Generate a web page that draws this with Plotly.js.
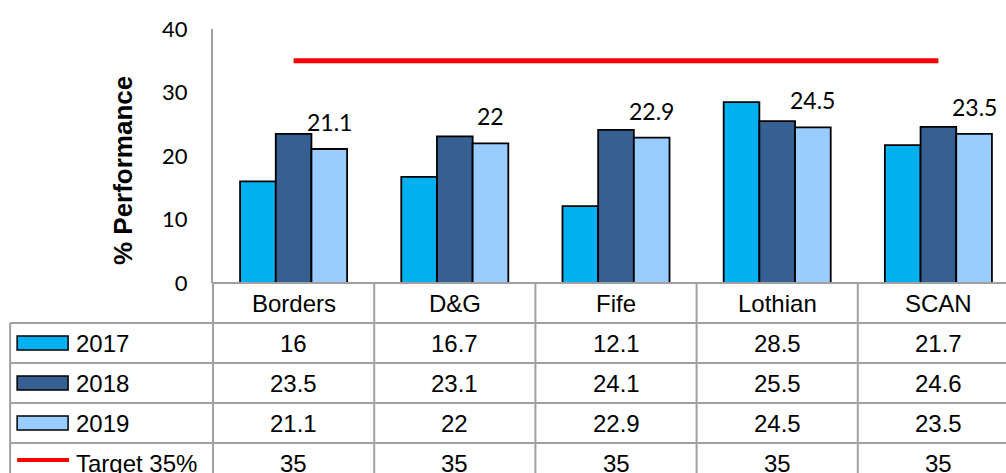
<!DOCTYPE html>
<html>
<head>
<meta charset="utf-8">
<script src="https://cdn.plot.ly/plotly-3.0.1.min.js"></script>
<style>
html,body{margin:0;padding:0;overflow:hidden;background:#fff;width:1006px;height:473px;}
#chart{width:1040px;height:500px;}
</style>
</head>
<body>
<div id="chart"></div>
<script>
// ---- data ----
const categories = ['Borders', 'D&G', 'Fife', 'Lothian', 'SCAN'];
const y2017 = [16, 16.7, 12.1, 28.5, 21.7];
const y2018 = [23.5, 23.1, 24.1, 25.5, 24.6];
const y2019 = [21.1, 22, 22.9, 24.5, 23.5];
const target = [35, 35, 35, 35, 35];
const seriesNames = ['2017', '2018', '2019', 'Target 35%'];
const yTickVals = [0, 10, 20, 30, 40];
const yTitle = '% Performance';

// ---- style / layout geometry ----
const colors = ['#00B0F0', '#376092', '#99CCFF', '#FF0000'];
const FIG_W = 1040, FIG_H = 500;
const L = 213, T = 29, PLOT_BOTTOM = 283;
const CELL_W = 161.3;
const PLOT_W = CELL_W * categories.length;
const PLOT_H = PLOT_BOTTOM - T;
const ROW_H = 40;
const TABLE_LEFT = 10;
const BARGAP = 0.336;
const gridColor = '#A0A0A0';
const tableFont = {family: 'Liberation Sans, Arial, sans-serif', size: 24, color: '#000'};

const px = x => (x - L) / PLOT_W;          // pixel -> paper x
const py = y => (PLOT_BOTTOM - y) / PLOT_H; // pixel -> paper y

const rows = [y2017, y2018, y2019, target];

const traces = [];
[y2017, y2018, y2019].forEach((vals, i) => {
  traces.push({
    type: 'bar', x: categories, y: vals, name: seriesNames[i],
    marker: {color: colors[i], line: {color: '#000', width: 1.8}},
    hoverinfo: 'skip'
  });
});
traces.push({
  type: 'scatter', mode: 'lines', x: categories, y: target, name: seriesNames[3],
  line: {color: colors[3], width: 5}, hoverinfo: 'skip'
});

const shapes = [];
const annotations = [];
const line = (x0, y0, x1, y1, extra) => Object.assign({
  type: 'line', xref: 'paper', yref: 'paper',
  x0: px(x0), y0: py(y0), x1: px(x1), y1: py(y1),
  line: {color: gridColor, width: 2}, layer: 'above'
}, extra || {});

const tableBottom = PLOT_BOTTOM + ROW_H * (rows.length + 1);
const right = L + PLOT_W;
// horizontal table lines
shapes.push(line(L, PLOT_BOTTOM, right, PLOT_BOTTOM));
for (let r = 1; r <= rows.length + 1; r++) {
  const yy = PLOT_BOTTOM + r * ROW_H;
  shapes.push(line(TABLE_LEFT, yy, right, yy));
}
// vertical table lines
shapes.push(line(TABLE_LEFT, PLOT_BOTTOM + ROW_H, TABLE_LEFT, tableBottom + 10));
for (let c = 0; c <= categories.length; c++) {
  const xx = L + c * CELL_W;
  shapes.push(line(xx, PLOT_BOTTOM, xx, tableBottom + 10));
}

// header row (category names)
categories.forEach((cat, i) => {
  annotations.push({
    xref: 'x', yref: 'paper', x: i, y: py(PLOT_BOTTOM + ROW_H / 2),
    text: cat, showarrow: false, font: tableFont, xanchor: 'center', yanchor: 'middle'
  });
});

// data rows
rows.forEach((vals, r) => {
  const yc = PLOT_BOTTOM + ROW_H * (r + 1) + ROW_H / 2;
  vals.forEach((v, i) => {
    annotations.push({
      xref: 'x', yref: 'paper', x: i, y: py(yc),
      text: String(v), showarrow: false, font: tableFont, xanchor: 'center', yanchor: 'middle'
    });
  });
  // legend key
  if (r < 3) {
    shapes.push({
      type: 'rect', xref: 'paper', yref: 'paper',
      x0: px(17), x1: px(68), y0: py(yc - 7), y1: py(yc + 7),
      fillcolor: colors[r], line: {color: '#000', width: 1.5}, layer: 'above'
    });
  } else {
    shapes.push({
      type: 'line', xref: 'paper', yref: 'paper',
      x0: px(17), x1: px(69), y0: py(yc - 3), y1: py(yc - 3),
      line: {color: colors[3], width: 4}, layer: 'above'
    });
  }
  annotations.push({
    xref: 'paper', yref: 'paper', x: px(74), y: py(yc),
    text: seriesNames[r], showarrow: false, font: tableFont, xanchor: 'left', yanchor: 'middle'
  });
});

// data labels on 2019 bars
const barShift = (1 - BARGAP) / 3 * CELL_W;
y2019.forEach((v, i) => {
  annotations.push({
    xref: 'x', yref: 'y', x: i, y: v, xshift: barShift, yshift: 27,
    text: String(v), showarrow: false,
    font: {family: 'Lato, sans-serif', size: 23, color: '#000'},
    xanchor: 'center', yanchor: 'middle'
  });
});

// y title
annotations.push({
  xref: 'paper', yref: 'paper', x: px(123), y: py(171),
  text: '<b>' + yTitle + '</b>', textangle: -90, showarrow: false,
  font: {family: 'Liberation Sans, Arial, sans-serif', size: 26, color: '#000'},
  xanchor: 'center', yanchor: 'middle'
});

const layout = {
  width: FIG_W, height: FIG_H,
  margin: {l: L, t: T, r: FIG_W - L - PLOT_W, b: FIG_H - PLOT_BOTTOM, pad: 0},
  paper_bgcolor: '#fff', plot_bgcolor: '#fff',
  barmode: 'group', bargap: BARGAP, bargroupgap: 0,
  showlegend: false,
  xaxis: {
    type: 'category', range: [-0.5, categories.length - 0.5],
    showticklabels: false, showgrid: false, zeroline: false, showline: false, ticks: ''
  },
  yaxis: {
    range: [0, 40], tickvals: yTickVals, ticktext: yTickVals.map(String),
    showgrid: false, zeroline: false,
    showline: true, linecolor: gridColor, linewidth: 2,
    ticks: 'outside', ticklen: 0, ticklabelstandoff: 19,
    tickfont: {family: 'Lato, sans-serif', size: 22, color: '#000'}
  },
  shapes: shapes,
  annotations: annotations
};

Plotly.newPlot('chart', traces, layout, {staticPlot: true, displayModeBar: false});
</script>
</body>
</html>
